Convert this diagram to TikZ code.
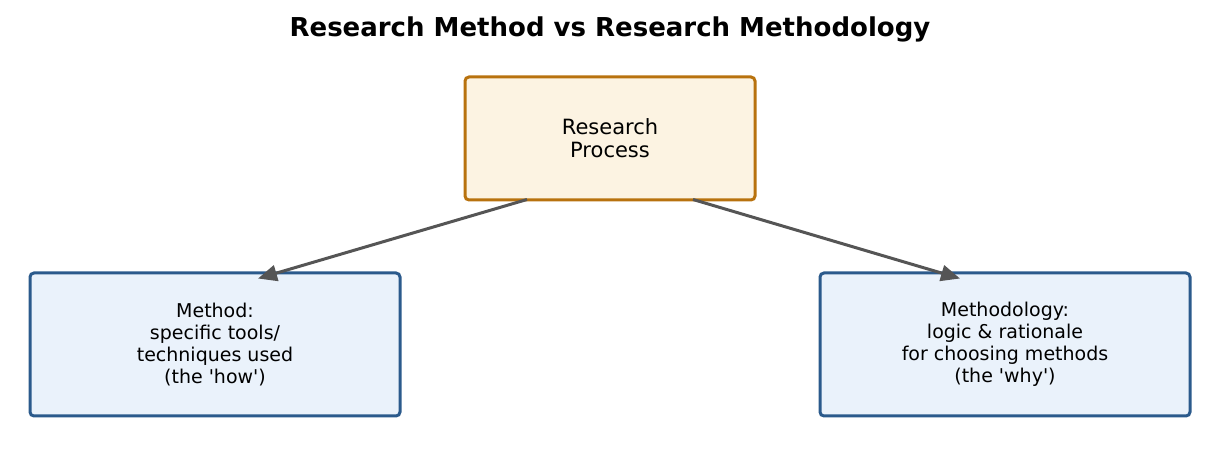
\documentclass[tikz,border=0pt]{standalone}
\usepackage{fontspec}
\setmainfont{DejaVu Sans}
\usetikzlibrary{arrows.meta,calc}
\definecolor{topfill}{HTML}{FCF3E2}
\definecolor{topdraw}{HTML}{B8720E}
\definecolor{bluefill}{HTML}{EAF2FB}
\definecolor{bluedraw}{HTML}{2B5A8C}
\definecolor{arrowcol}{HTML}{555555}
\begin{document}
\begin{tikzpicture}[x=1pt,y=-1pt,
  procbox/.style={draw=topdraw, fill=topfill, line width=3pt, rounded corners=4pt,
    align=center, inner sep=0pt, font=\fontsize{21}{23}\selectfont},
  leafbox/.style={draw=bluedraw, fill=bluefill, line width=3pt, rounded corners=4pt,
    align=center, inner sep=0pt, font=\fontsize{19}{22}\selectfont,
    minimum width=370pt, minimum height=143pt},
  conn/.style={draw=arrowcol, line width=3pt, -{Stealth[length=19pt,width=16pt,inset=0pt]}}]
\useasboundingbox (0,0) rectangle (1219,470);
\node[font=\bfseries\fontsize{26}{30}\selectfont] (title) at (610,29) {Research Method vs Research Methodology};
\node[procbox, minimum width=290pt, minimum height=123pt] (top) at (610,138.5) {Research\\Process};
\node[leafbox] (left) at (215,344.5) {Method:\\specific tools/\\techniques used\\(the \textquotesingle how\textquotesingle)};
\node[leafbox] (right) at (1005,344.5) {Methodology:\\logic \& rationale\\for choosing methods\\(the \textquotesingle why\textquotesingle)};
\coordinate (s1) at ($(top.south)+(-83,-2)$);
\coordinate (e1) at ($(left.north)+(43,7)$);
\coordinate (s2) at ($(top.south)+(83,-2)$);
\coordinate (e2) at ($(right.north)+(-45,7)$);
\draw[conn] (s1) -- (e1);
\draw[conn] (s2) -- (e2);
\end{tikzpicture}
\end{document}
